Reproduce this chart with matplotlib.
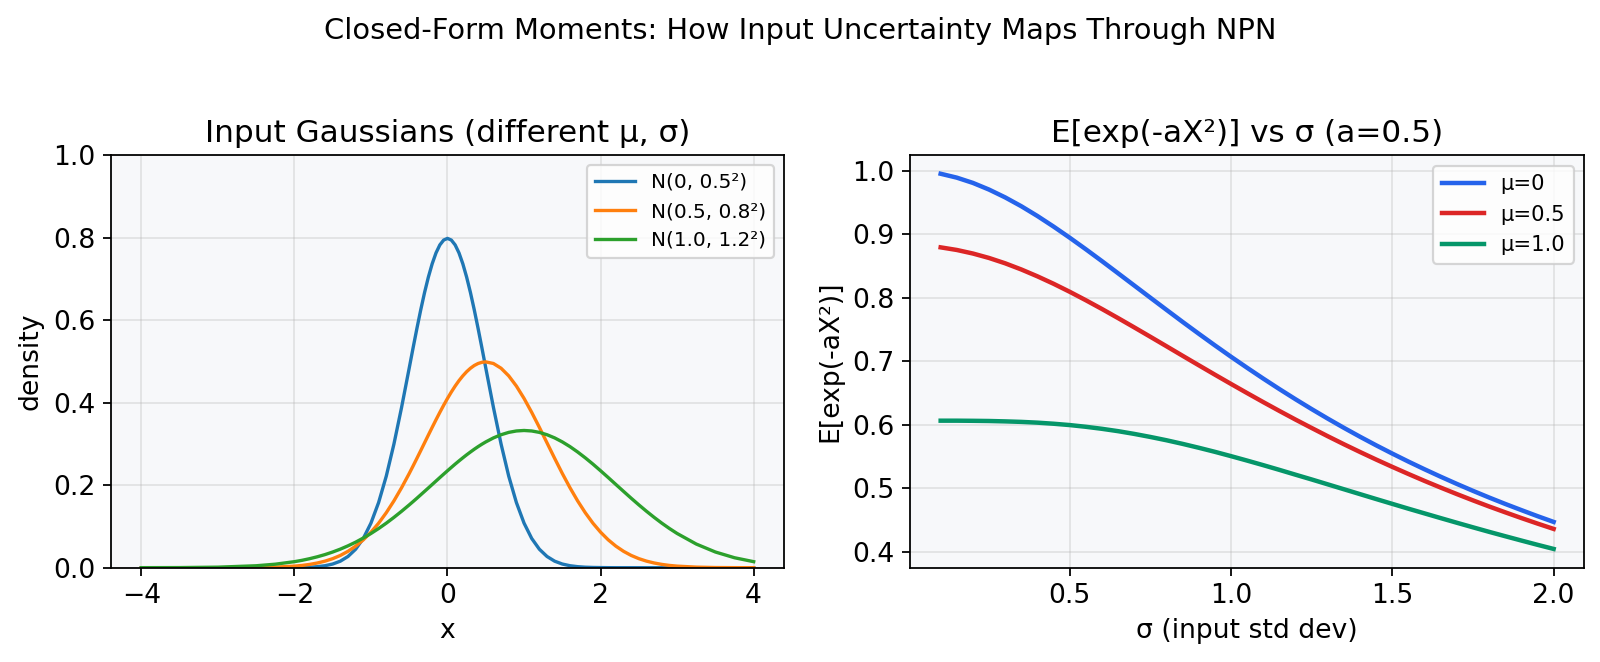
import matplotlib
matplotlib.use("Agg")
import matplotlib.pyplot as plt

# left panel: densities
x_vals = [-4.0, -3.5, -3.0, -2.5, -2.25, -2.0,
          -1.9, -1.8, -1.7, -1.6, -1.5, -1.4, -1.3, -1.2, -1.1, -1.0,
          -0.9, -0.8, -0.7, -0.6,
          -0.5, -0.45, -0.4, -0.35, -0.3, -0.25, -0.2, -0.15, -0.1, -0.05, 0.0,
          0.05, 0.1, 0.15, 0.2, 0.25, 0.3, 0.35, 0.4, 0.45, 0.5,
          0.6, 0.7, 0.8, 0.9, 1.0,
          1.1, 1.2, 1.3, 1.4, 1.5, 1.6, 1.7, 1.8, 1.9, 2.0,
          2.1, 2.2, 2.3, 2.4, 2.5, 2.6, 2.7, 2.8, 2.9, 3.0,
          3.25, 3.5, 3.75, 4.0]

dens_a = [0.0, 0.0, 0.0, 0.0, 0.0, 0.0003,
          0.0006, 0.0012, 0.0025, 0.0048, 0.0089, 0.0158, 0.0272, 0.0448, 0.0709, 0.1080,
          0.1579, 0.2218, 0.2995, 0.3884,
          0.4839, 0.5322, 0.5794, 0.6245, 0.6665, 0.7041, 0.7365, 0.7628, 0.7821, 0.7939, 0.7979,
          0.7939, 0.7821, 0.7628, 0.7365, 0.7041, 0.6665, 0.6245, 0.5794, 0.5322, 0.4839,
          0.3884, 0.2995, 0.2218, 0.1579, 0.1080,
          0.0709, 0.0448, 0.0272, 0.0158, 0.0089, 0.0048, 0.0025, 0.0012, 0.0006, 0.0003,
          0.0001, 0.0, 0.0, 0.0, 0.0, 0.0, 0.0, 0.0, 0.0, 0.0,
          0.0, 0.0, 0.0, 0.0]

dens_b = [0.0, 0.0, 0.00003, 0.00044, 0.00136, 0.0038,
          0.0055, 0.0080, 0.0114, 0.0159, 0.0219, 0.0297, 0.0397, 0.0522, 0.0675, 0.0860,
          0.1078, 0.1332, 0.1619, 0.1938,
          0.2283, 0.2464, 0.2649, 0.2836, 0.3025, 0.3214, 0.3401, 0.3585, 0.3764, 0.3937, 0.4102,
          0.4257, 0.4401, 0.4532, 0.4648, 0.4749, 0.4833, 0.4900, 0.4948, 0.4977, 0.4987,
          0.4948, 0.4833, 0.4648, 0.4401, 0.4102,
          0.3764, 0.3401, 0.3025, 0.2649, 0.2283, 0.1938, 0.1619, 0.1332, 0.1078, 0.0860,
          0.0675, 0.0522, 0.0397, 0.0297, 0.0219, 0.0159, 0.0114, 0.0080, 0.0055, 0.0038,
          0.0014, 0.0004, 0.00013, 0.00003]

dens_c = [0.0001, 0.0003, 0.0013, 0.0047, 0.0085, 0.0146,
          0.0179, 0.0219, 0.0265, 0.0318, 0.0380, 0.0450, 0.0530, 0.0619, 0.0719, 0.0829,
          0.0949, 0.1079, 0.1219, 0.1367,
          0.1522, 0.1602, 0.1683, 0.1766, 0.1849, 0.1932, 0.2016, 0.2100, 0.2184, 0.2267, 0.2349,
          0.2430, 0.2510, 0.2587, 0.2662, 0.2735, 0.2804, 0.2871, 0.2934, 0.2993, 0.3048,
          0.3145, 0.3222, 0.3279, 0.3313, 0.3325,
          0.3313, 0.3279, 0.3222, 0.3145, 0.3048, 0.2934, 0.2804, 0.2662, 0.2510, 0.2349,
          0.2184, 0.2016, 0.1849, 0.1683, 0.1522, 0.1367, 0.1219, 0.1079, 0.0949, 0.0829,
          0.0573, 0.0380, 0.0241, 0.0146]

dens_labels = ['N(0, 0.5²)', 'N(0.5, 0.8²)', 'N(1.0, 1.2²)']

# right panel: expected value vs sigma
sigma_vals = [0.10, 0.15, 0.20, 0.25, 0.30, 0.35, 0.40, 0.45, 0.50, 0.55,
              0.60, 0.65, 0.70, 0.75, 0.80, 0.85, 0.90, 0.95, 1.00, 1.05,
              1.10, 1.15, 1.20, 1.25, 1.30, 1.35, 1.40, 1.45, 1.50, 1.55,
              1.60, 1.65, 1.70, 1.75, 1.80, 1.85, 1.90, 1.95, 2.00]

ev_mu0 = [0.9950, 0.9889, 0.9806, 0.9701, 0.9578, 0.9439, 0.9285, 0.9119, 0.8944, 0.8762,
          0.8575, 0.8384, 0.8192, 0.8000, 0.7809, 0.7619, 0.7433, 0.7250, 0.7071, 0.6897,
          0.6727, 0.6562, 0.6402, 0.6247, 0.6097, 0.5952, 0.5812, 0.5677, 0.5547, 0.5421,
          0.5300, 0.5183, 0.5070, 0.4961, 0.4856, 0.4755, 0.4658, 0.4563, 0.4472]

ev_mu05 = [0.8792, 0.8751, 0.8695, 0.8625, 0.8541, 0.8444, 0.8336, 0.8219, 0.8093, 0.7960,
           0.7822, 0.7679, 0.7533, 0.7385, 0.7236, 0.7086, 0.6937, 0.6789, 0.6643, 0.6499,
           0.6357, 0.6218, 0.6082, 0.5950, 0.5820, 0.5694, 0.5572, 0.5453, 0.5338, 0.5226,
           0.5117, 0.5012, 0.4910, 0.4811, 0.4715, 0.4623, 0.4533, 0.4446, 0.4362]

ev_mu1 = [0.6065, 0.6065, 0.6063, 0.6060, 0.6054, 0.6046, 0.6034, 0.6017, 0.5996, 0.5969,
          0.5937, 0.5900, 0.5857, 0.5809, 0.5757, 0.5700, 0.5639, 0.5575, 0.5507, 0.5437,
          0.5365, 0.5291, 0.5215, 0.5140, 0.5063, 0.4986, 0.4909, 0.4832, 0.4756, 0.4680,
          0.4606, 0.4532, 0.4459, 0.4387, 0.4316, 0.4247, 0.4179, 0.4112, 0.4047]

mu_labels = ['μ=0', 'μ=0.5', 'μ=1.0']
mu_colors = ['#2563eb', '#dc2626', '#059669']

bg = '#f7f8fa'

fig = plt.figure(figsize=(10, 662 / 160), dpi=160)
ax1 = fig.add_axes([110.7 / 1600, 1 - 567.7 / 662, (784.3 - 110.7) / 1600, (567.7 - 155) / 662])
ax2 = fig.add_axes([910 / 1600, 1 - 567.7 / 662, (1584.3 - 910) / 1600, (567.7 - 155) / 662])

for ys, lab in zip([dens_a, dens_b, dens_c], dens_labels):
    ax1.plot(x_vals, ys, lw=1.5, label=lab)
ax1.set_ylim(0, 1.0)
ax1.set_xlabel('x', fontsize=12)
ax1.set_ylabel('density', fontsize=12)
ax1.set_title('Input Gaussians (different μ, σ)', fontsize=14)
ax1.legend(fontsize=9, loc='upper right')

for ys, lab, c in zip([ev_mu0, ev_mu05, ev_mu1], mu_labels, mu_colors):
    ax2.plot(sigma_vals, ys, lw=2, color=c, label=lab)
ax2.set_xlabel('σ (input std dev)', fontsize=12)
ax2.set_ylabel('E[exp(-aX²)]', fontsize=12)
ax2.set_title('E[exp(-aX²)] vs σ (a=0.5)', fontsize=14)
ax2.legend(fontsize=9.5, loc='upper right')

for ax in (ax1, ax2):
    ax.set_facecolor(bg)
    ax.grid(True, alpha=0.3)
    ax.tick_params(labelsize=12)

fig.suptitle('Closed-Form Moments: How Input Uncertainty Maps Through NPN',
             fontsize=13, y=1 - 31 / 662, va='center')

fig.savefig('out.png', dpi=160)
